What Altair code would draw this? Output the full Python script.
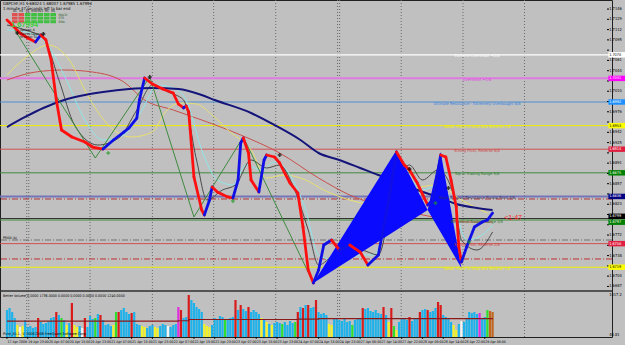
import altair as alt
import pandas as pd
import numpy as np

NARROW = "Liberation Sans Narrow, DejaVu Sans Condensed, Liberation Sans, sans-serif"

# ---------------- data ----------------
line_bar = [0, 2, 5, 8, 11, 13, 15, 17, 19, 21, 25, 30, 33, 37, 41, 45, 47, 50, 51, 53,
            56, 60, 64, 66, 68, 69, 70, 72, 75, 76, 78, 79, 81, 85, 87, 89, 90, 91, 93, 94,
            97, 99, 100, 103, 105, 109, 112, 114, 116, 118, 120, 122, 125, 128, 132, 136, 139, 143, 147, 150,
            153, 155, 158, 162, 164, 167, 169, 171, 173, 174, 175, 177, 180, 183, 185, 187]
line_price = [1.71279, 1.71196, 1.71064, 1.70981, 1.70915, 1.71031, 1.70948, 1.70617, 1.69955, 1.69459,
              1.69343, 1.69260, 1.69177, 1.69144, 1.69293, 1.69425, 1.69492, 1.69657, 1.69955, 1.70319,
              1.70220, 1.70137, 1.70071, 1.69889, 1.69823, 1.69856, 1.69757, 1.68681, 1.68135, 1.68052,
              1.68300, 1.68516, 1.68433, 1.68350, 1.68333, 1.68631, 1.69243, 1.69326, 1.69078, 1.68631,
              1.68433, 1.68962, 1.69045, 1.69012, 1.68912, 1.68581, 1.68416, 1.67853, 1.67142, 1.66926,
              1.67142, 1.67555, 1.67638, 1.67473, 1.67555, 1.67439, 1.67224, 1.67390, 1.68300, 1.69095,
              1.68879, 1.68797, 1.68581, 1.68218, 1.68300, 1.69045, 1.69012, 1.68631, 1.68184, 1.67522,
              1.67274, 1.67522, 1.67853, 1.67936, 1.67969, 1.68085]

navy_bar = [0, 7, 14, 22, 30, 37, 47, 56, 66, 75, 80, 94, 103, 113, 120, 128, 136, 143, 151, 158, 166, 173, 181, 187]
navy_price = [1.69508, 1.69674, 1.69823, 1.69955, 1.70038, 1.70088, 1.70137, 1.70154, 1.70137, 1.70038,
              1.69955, 1.69740, 1.69541, 1.69293, 1.69078, 1.68962, 1.68830, 1.68714, 1.68598, 1.68466,
              1.68350, 1.68234, 1.68168, 1.68135]

brown_bar = [0, 11, 22, 33, 45, 53, 64, 75, 90, 105, 120, 132, 143, 155, 166, 177, 187]
brown_price = [1.70286, 1.70418, 1.70452, 1.70418, 1.70253, 1.69955, 1.69790, 1.69624, 1.69376, 1.69078,
               1.68664, 1.68383, 1.68217, 1.68101, 1.68002, 1.67936, 1.67936]

yellow_bar = [0, 7, 16, 24, 31, 39, 48, 56, 61, 67, 73, 79, 86, 94, 100, 107, 115, 122, 132, 143, 155, 166, 175, 185]
yellow_price = [1.70369, 1.70650, 1.70865, 1.70617, 1.70038, 1.69541, 1.69343, 1.69425, 1.69757, 1.69906,
                1.69889, 1.69707, 1.69425, 1.69128, 1.68664, 1.68714, 1.68631, 1.68466, 1.68300, 1.68217,
                1.68466, 1.68548, 1.68300, 1.68085]

cyan_bar = [0, 7, 14, 22, 30, 37, 45, 52, 58, 64, 69, 75, 81, 87, 92, 98, 103, 109, 115, 120,
            126, 134, 141, 149, 155, 160, 166, 172, 177, 183, 187]
cyan_price = [1.71114, 1.71081, 1.70948, 1.70369, 1.69624, 1.69293, 1.69376, 1.69790, 1.70203, 1.70154,
              1.69955, 1.69128, 1.68631, 1.68549, 1.68879, 1.68797, 1.68929, 1.68714, 1.68135, 1.67390,
              1.67307, 1.67390, 1.67390, 1.68217, 1.68631, 1.68466, 1.68548, 1.68217, 1.67638, 1.67721,
              1.67886]

grey_bar = [0, 7, 14, 20, 26, 35, 43, 50, 56, 62, 68, 73, 77, 83, 88, 94, 100, 105, 110, 116,
            120, 126, 136, 143, 149, 155, 160, 166, 172, 175, 181, 187]
grey_price = [1.71196, 1.71114, 1.70981, 1.70286, 1.69541, 1.69210, 1.69326, 1.69790, 1.70203, 1.70088,
              1.69955, 1.68962, 1.68300, 1.68466, 1.68549, 1.68962, 1.68830, 1.68879, 1.68549, 1.67804,
              1.67224, 1.67390, 1.67473, 1.67390, 1.68466, 1.68879, 1.68631, 1.68797, 1.68383, 1.67638,
              1.67473, 1.67771]

zig_bar = [3, 34, 55, 72, 91, 118]
zig_price = [1.71114, 1.68995, 1.70336, 1.68019, 1.69343, 1.66926]

tri1_bar = [118, 150, 162]
tri1_price = [1.66926, 1.69128, 1.68135]
tri2_bar = [162, 167, 175]
tri2_price = [1.68135, 1.69095, 1.67175]

lvl_price = [1.70703, 1.70313, 1.69922, 1.69531, 1.69141, 1.68750, 1.68359, 1.67969, 1.67578, 1.67188]
lvl_label = ["Extreme Overshoot +2/8", "Overshoot +1/8",
             "Ultimate Resistance - Extremely Overbought 8/8", "Weak, Place to Stop and Reverse 7/8",
             "Strong Pivot, Reverse 6/8", "Top of Trading Range 5/8",
             "Major Support/Resistance Pivotal Point 4/8", "Bottom of Trading Range 3/8",
             "Strong Pivot, Reverse 2/8", "Weak, Place to Stop and Reverse 1/8"]
lvl_color = ["#ffffff", "#e07ae0", "#4f8fd0", "#f0f000", "#d05050", "#3f8a3f",
             "#7474b8", "#3f8a3f", "#d05050", "#f0f000"]
lvl_text_color = ["#ffffff", "#e040e0", "#2f7fe0", "#f0f000", "#d04040", "#2a7a2a",
                  "#303060", "#2a7a2a", "#d04040", "#f0f000"]
lvl_width = [1.2, 2, 1, 1, 1, 1, 2, 1, 1, 1]

dash_price = [1.68317, 1.67638, 1.67324]
dash_color = ["#b03030", "#707070", "#c03030"]
bid_price = 1.67994

box_price = lvl_price + [bid_price]
box_color = ["#ffffff", "#ff00ff", "#1e90ff", "#ffff00", "#e02040", "#008000",
             "#000080", "#008000", "#e02040", "#ffff00", "#000000"]
box_text = ["#000000", "#ffffff", "#ffffff", "#000000", "#ffffff", "#ffffff",
            "#ffffff", "#ffffff", "#ffffff", "#000000", "#ffffff"]
# vertical nudge of the price boxes (the bid box sits just above the 3/8 box)
box_shift = [0, 0, 0, 0, 0, 0, 0, -0.00036, 0, 0, 0.00036]

price_ticks = [1.7146, 1.7129, 1.7112, 1.7095, 1.7078, 1.7061, 1.7044, 1.7027, 1.7010, 1.6993,
               1.6976, 1.6959, 1.6942, 1.6925, 1.6908, 1.6891, 1.6874, 1.6857, 1.6840, 1.6823,
               1.6806, 1.6789, 1.6772, 1.6755, 1.6738, 1.6721, 1.6704, 1.6687]

time_labels = ["17 Apr 2009", "19 Apr 23:00", "20 Apr 07:00", "20 Apr 15:00", "20 Apr 23:00",
               "21 Apr 07:00", "21 Apr 15:00", "21 Apr 23:00", "22 Apr 07:00", "22 Apr 15:00",
               "22 Apr 23:00", "23 Apr 07:00", "23 Apr 15:00", "23 Apr 23:00", "24 Apr 07:00",
               "24 Apr 15:00", "24 Apr 23:00", "27 Apr 06:00", "27 Apr 14:00", "27 Apr 22:00",
               "28 Apr 06:00", "28 Apr 14:00", "28 Apr 22:00", "29 Apr 06:00"]
time_tick_bars = [8 * i for i in range(len(time_labels))]
day_sep_bars = [7.6, 8.4, 32, 56, 79.6, 103.5, 127.3, 128.1, 151.8, 175.6, 199.3]

black_mark_bar = [4, 14, 55, 105, 155, 170]
black_mark_price = [1.71064, 1.71048, 1.70336, 1.69045, 1.68813, 1.68499]
green_mark_bar = [39, 87, 165, 178]
green_mark_price = [1.69078, 1.68283, 1.68250, 1.67605]

volume = [648, 696, 600, 456, 288, 240, 264, 408,
          240, 264, 216, 240, 456, 360, 312, 336,
          384, 456, 480, 600, 528, 456, 408, 288,
          336, 816, 288, 240, 264, 216, 456, 240,
          504, 432, 456, 552, 528, 408, 288, 312,
          264, 288, 600, 600, 648, 696, 600, 552,
          576, 600, 312, 288, 264, 240, 216, 264,
          288, 240, 216, 264, 312, 288, 264, 240,
          288, 312, 720, 648, 456, 480, 1008, 888,
          816, 720, 672, 600, 312, 264, 240, 288,
          456, 432, 504, 480, 432, 408, 456, 480,
          888, 648, 768, 672, 624, 720, 600, 648,
          600, 552, 456, 408, 360, 312, 288, 336,
          360, 336, 312, 360, 288, 384, 336, 360,
          600, 720, 696, 768, 768, 696, 720, 888,
          600, 552, 576, 528, 312, 288, 456, 432,
          408, 384, 432, 360, 384, 288, 408, 432,
          456, 696, 672, 696, 624, 600, 648, 576,
          552, 720, 528, 360, 696, 264, 168, 360,
          432, 456, 408, 480, 384, 432, 456, 600,
          648, 672, 648, 600, 624, 696, 840, 768,
          528, 480, 432, 360, 288, 168, 312, 384,
          360, 432, 600, 576, 600, 552, 576, 456,
          480, 648, 624, 600]
vol_kind = list("ccccywyc" "ccccrccc" "cccrcgcy" "cryycwrc" "ccgcrccc" "cygrcccc"
                "rcccyycc" "cyycccwc" "ccmrccrc" "ccccyyyc" "ccccgccc"
                "rcrccrcc" "ccycycyc" "ccgccccg" "rcrcrccr" "ccccyycc" "cccccgcc"
                "crcccccc" "crcyrgyc" "cccrcccr" "ccrcccrr" "ccccyycw" "ccccccmc" "cgbb")
vol_colors = {"c": "#1fb2ea", "r": "#d81c1c", "y": "#f2f22a", "w": "#f4f4f4",
              "g": "#2ee02e", "m": "#e02ee0", "b": "#c0641e"}
vol_ma_bar = [0, 40, 66, 70, 112, 120, 150, 187]
vol_ma_val = [380, 380, 390, 420, 430, 440, 440, 445]

tfs = ["D1", "H4", "H1", "M30", "M15", "M5", "M1"]
sig_rows = ["MACD", "STR", "EMA"]
sig_matrix = [["d", "d", "u", "u", "u", "u", "u"],
              ["d", "d", "u", "u", "u", "u", "u"],
              ["d", "d", "u", "u", "u", "u", "u"]]

# ---------------- scales ----------------
X_MIN, X_MAX = -0.76, 231.06
P_MIN, P_MAX = 1.66033, 1.71610
xs = alt.Scale(domain=[X_MIN, X_MAX], nice=False, zero=False)
ps = alt.Scale(domain=[P_MIN, P_MAX], nice=False, zero=False)
vs = alt.Scale(domain=[0, 8088], nice=False, zero=False)

X = lambda f: alt.X(f, scale=xs, axis=None)
P = lambda f: alt.Y(f, scale=ps, axis=None, stack=None)

# ---------------- price panel ----------------
sep_df = pd.DataFrame({"bar": day_sep_bars})
vgrid = alt.Chart(sep_df).mark_rule(color="#6a6a6a", strokeDash=[1, 2], strokeWidth=1).encode(
    x=X("bar:Q"))

lvl_df = pd.DataFrame({"p": lvl_price, "label": lvl_label, "col": lvl_color,
                       "tcol": lvl_text_color, "w": lvl_width, "bar": [181] * len(lvl_price)})
levels = alt.Chart(lvl_df).mark_rule().encode(
    y=P("p:Q"),
    color=alt.Color("col:N", scale=None),
    strokeWidth=alt.StrokeWidth("w:Q", scale=None))

dash_df = pd.DataFrame({"p": dash_price, "col": dash_color})
dashes = alt.Chart(dash_df).mark_rule(strokeDash=[6, 2, 1, 2], strokeWidth=1).encode(
    y=P("p:Q"), color=alt.Color("col:N", scale=None))

bid = alt.Chart(pd.DataFrame({"p": [bid_price]})).mark_rule(color="#333333", strokeWidth=1).encode(
    y=P("p:Q"))

lvl_text = alt.Chart(lvl_df).mark_text(font=NARROW, fontSize=4, dy=1.5, align="center",
                                       baseline="middle").encode(
    x=X("bar:Q"), y=P("p:Q"), text="label:N", color=alt.Color("tcol:N", scale=None))


def ma_line(bars, prices, color, width, interp="monotone"):
    df = pd.DataFrame({"bar": bars, "p": prices})
    return alt.Chart(df).mark_line(color=color, strokeWidth=width, interpolate=interp).encode(
        x=X("bar:Q"), y=P("p:Q"), order="bar:Q")


ma_brown = ma_line(brown_bar, brown_price, "#c8504a", 1)
ma_yellow = ma_line(yellow_bar, yellow_price, "#e8e070", 1)
ma_cyan = ma_line(cyan_bar, cyan_price, "#8fe6ea", 1)
ma_grey = ma_line(grey_bar, grey_price, "#4a4a4a", 1)
ma_navy = ma_line(navy_bar, navy_price, "#14147a", 2)
zigzag = ma_line(zig_bar, zig_price, "#3e8a3e", 1, "linear")

tri_rows = []
for tid, (tb, tp) in enumerate([(tri1_bar, tri1_price), (tri2_bar, tri2_price)]):
    for b, p in zip(tb, tp):
        base = float(np.interp(b, [tb[0], tb[-1]], [tp[0], tp[-1]]))
        tri_rows.append({"tri": tid, "bar": b, "p": p, "p2": base})
tri_df = pd.DataFrame(tri_rows)
triangles = alt.Chart(tri_df).mark_area(color="#0a0aff", opacity=1).encode(
    x=X("bar:Q"), y=P("p:Q"), y2="p2:Q", detail="tri:N")

n = min(len(line_bar), len(line_price))
pl = pd.DataFrame({"bar": line_bar[:n], "p": line_price[:n]})
pl["bar2"] = pl["bar"].shift(-1)
pl["p2"] = pl["p"].shift(-1)
pl = pl.dropna()
pl["dir"] = np.where(pl["p2"] >= pl["p"], "up", "down")
price_line = alt.Chart(pl).mark_rule(strokeWidth=2.8, strokeCap="round").encode(
    x=X("bar:Q"), x2="bar2:Q", y=P("p:Q"), y2="p2:Q",
    color=alt.Color("dir:N", scale=alt.Scale(domain=["up", "down"], range=["#1010e6", "#ff1010"]),
                    legend=None))

bm = alt.Chart(pd.DataFrame({"bar": black_mark_bar, "p": black_mark_price})).mark_point(
    shape="cross", filled=True, size=16, color="black").encode(x=X("bar:Q"), y=P("p:Q"))
gm = alt.Chart(pd.DataFrame({"bar": green_mark_bar, "p": green_mark_price})).mark_point(
    shape="cross", filled=True, size=14, color="#1f9a1f").encode(x=X("bar:Q"), y=P("p:Q"))

timer = alt.Chart(pd.DataFrame({"bar": [191.5], "p": [1.68002], "t": ["<1:47"]})).mark_text(
    color="#ff2020", fontSize=7, align="left", baseline="middle", font="Liberation Sans").encode(
    x=X("bar:Q"), y=P("p:Q"), text="t:N")

# right price axis (drawn as marks, outside the plot); labels hidden under price boxes are skipped
AX_LABEL_BAR = 231.6
vis_ticks = [t for t in price_ticks if min(abs(t - b) for b in box_price) > 0.0009]
ptick_df = pd.DataFrame({"p": price_ticks, "b1": [X_MAX] * len(price_ticks),
                         "b2": [X_MAX + 0.8] * len(price_ticks)})
plabel_df = pd.DataFrame({"p": vis_ticks, "bl": [AX_LABEL_BAR + 0.3] * len(vis_ticks)})
ptick_rules = alt.Chart(ptick_df).mark_rule(clip=False, color="black", strokeWidth=1).encode(
    x=X("b1:Q"), x2="b2:Q", y=P("p:Q"))
ptick_text = alt.Chart(plabel_df).mark_text(clip=False, font=NARROW, fontSize=4, align="left",
                                            baseline="middle", color="black").encode(
    x=X("bl:Q"), y=P("p:Q"), text=alt.Text("p:Q", format=".4f"))

box_df = pd.DataFrame({"p": box_price, "col": box_color, "tcol": box_text, "shift": box_shift,
                       "b1": [231.6] * len(box_price), "b2": [238.0] * len(box_price),
                       "bl": [AX_LABEL_BAR + 0.3] * len(box_price)})
box_df["mid"] = box_df["p"] + box_df["shift"]
box_df["top"] = box_df["mid"] + 0.00045
box_df["bot"] = box_df["mid"] - 0.00045
boxes = alt.Chart(box_df).mark_rect(clip=False).encode(
    x=X("b1:Q"), x2="b2:Q", y=P("top:Q"), y2="bot:Q", color=alt.Color("col:N", scale=None))
box_lbl = alt.Chart(box_df).mark_text(clip=False, fontSize=3.8, font=NARROW, align="left",
                                      baseline="middle").encode(
    x=X("bl:Q"), y=P("mid:Q"), text=alt.Text("p:Q", format=".4f"),
    color=alt.Color("tcol:N", scale=None))

# bottom time axis (drawn as marks, below the plot)
ttick_df = pd.DataFrame({"bar": time_tick_bars, "label": time_labels,
                         "p1": [P_MIN] * len(time_labels), "p2": [P_MIN - 0.0003] * len(time_labels),
                         "pl": [P_MIN - 0.00075] * len(time_labels)})
ttick_rules = alt.Chart(ttick_df).mark_rule(clip=False, color="black", strokeWidth=1).encode(
    x=X("bar:Q"), y=P("p1:Q"), y2="p2:Q")
ttick_text = alt.Chart(ttick_df).mark_text(clip=False, font=NARROW, fontSize=3.5, align="left",
                                           baseline="middle", color="black", dx=0.5).encode(
    x=X("bar:Q"), y=P("pl:Q"), text="label:N")

panel_sep = alt.Chart(pd.DataFrame({"p": [1.66794]})).mark_rule(color="#303030", strokeWidth=1.6).encode(
    y=P("p:Q"))

# top-left info widget
info_df = pd.DataFrame({"t": ["GBPCHF,H1  1.68024 1.68037 1.67985 1.67994",
                              "1 minute 47 seconds left to bar end"],
                        "px": [3, 3], "py": [4, 8.5]})
info = alt.Chart(info_df).mark_text(font=NARROW, fontSize=4.2, align="left", baseline="middle",
                                    color="black").encode(
    x=alt.X("px:Q", scale=None, axis=None), y=alt.Y("py:Q", scale=None, axis=None), text="t:N")

cells = []
for r, row in enumerate(sig_matrix):
    for c, s in enumerate(row):
        x0 = 12 + c * 6.4
        y0 = 13 + r * 3.6
        cells.append({"x0": x0, "x1": x0 + 5.6, "y0": y0, "y1": y0 + 3.0,
                      "col": "#e05050" if s == "d" else "#40c040"})
cell_df = pd.DataFrame(cells)
sig_cells = alt.Chart(cell_df).mark_rect().encode(
    x=alt.X("x0:Q", scale=None, axis=None), x2="x1:Q",
    y=alt.Y("y0:Q", scale=None, axis=None), y2="y1:Q", color=alt.Color("col:N", scale=None))
hdr_df = pd.DataFrame({"t": tfs, "px": [14.8 + 6.4 * i for i in range(len(tfs))], "py": [11] * len(tfs)})
hdr = alt.Chart(hdr_df).mark_text(font=NARROW, fontSize=3, align="center", baseline="middle",
                                  color="black").encode(
    x=alt.X("px:Q", scale=None, axis=None), y=alt.Y("py:Q", scale=None, axis=None), text="t:N")
rowlbl_df = pd.DataFrame({"t": sig_rows, "px": [58.5] * 3, "py": [14.5 + 3.6 * i for i in range(3)]})
rowlbl = alt.Chart(rowlbl_df).mark_text(font=NARROW, fontSize=3.2, align="left", baseline="middle",
                                        color="#1e5a1e").encode(
    x=alt.X("px:Q", scale=None, axis=None), y=alt.Y("py:Q", scale=None, axis=None), text="t:N")
big_df = pd.DataFrame({"t": ["1.67994"], "px": [11], "py": [25]})
big = alt.Chart(big_df).mark_text(font="Liberation Sans", fontSize=7.5, fontWeight="bold",
                                  align="left", baseline="middle", color="#3ccf3c").encode(
    x=alt.X("px:Q", scale=None, axis=None), y=alt.Y("py:Q", scale=None, axis=None), text="t:N")
small_df = pd.DataFrame({"t": ["Spread: 4", "Pips to Open: -3", "Hi to Lo: 52"],
                         "px": [20, 20, 20], "py": [30, 33.5, 37]})
small = alt.Chart(small_df).mark_text(font=NARROW, fontSize=3.4, align="left", baseline="middle",
                                      color="black").encode(
    x=alt.X("px:Q", scale=None, axis=None), y=alt.Y("py:Q", scale=None, axis=None), text="t:N")
pri_df = pd.DataFrame({"t": ["PRI04 (b)"], "px": [3], "py": [238]})
pri = alt.Chart(pri_df).mark_text(font=NARROW, fontSize=3.4, align="left", baseline="middle",
                                  color="black").encode(
    x=alt.X("px:Q", scale=None, axis=None), y=alt.Y("py:Q", scale=None, axis=None), text="t:N")

price_group = alt.layer(vgrid, levels, dashes, bid, ma_brown, ma_yellow, ma_cyan, ma_grey,
                        ma_navy, zigzag, triangles, lvl_text, price_line, bm, gm, timer,
                        ptick_rules, ptick_text, boxes, box_lbl, ttick_rules, ttick_text,
                        panel_sep, info, sig_cells, hdr, rowlbl, big, small, pri)

# ---------------- volume panel ----------------
nv = min(len(volume), len(vol_kind))
vol_df = pd.DataFrame({"bar": list(range(nv)), "v": volume[:nv],
                       "col": [vol_colors[k] for k in vol_kind[:nv]]})
vol_bars = alt.Chart(vol_df).mark_bar(size=2.2).encode(
    x=X("bar:Q"), y=alt.Y("v:Q", scale=vs, axis=None, stack=None), y2=alt.datum(0),
    color=alt.Color("col:N", scale=None))
vol_ma = alt.Chart(pd.DataFrame({"bar": vol_ma_bar, "v": vol_ma_val})).mark_line(
    color="#8a1a1a", strokeWidth=1.2, interpolate="step-after").encode(
    x=X("bar:Q"), y=alt.Y("v:Q", scale=vs, axis=None), order="bar:Q")
vlab_df = pd.DataFrame({"bar": [AX_LABEL_BAR + 0.3] * 2, "v": [1017, 60], "t": ["1017.2", "48.81"]})
vol_lab = alt.Chart(vlab_df).mark_text(clip=False, font=NARROW, fontSize=4, align="left",
                                       baseline="middle", color="black").encode(
    x=X("bar:Q"), y=alt.Y("v:Q", scale=vs, axis=None), text="t:N")
vtxt_df = pd.DataFrame({"t": ["Better Volume 0.0000 1736.0000 0.0000 0.0000 0.0000 0.0000 1240.0000",
                              "Pivot_X1.1, \u00a9 2006-2008 FreeQuant Software Corp."],
                        "px": [3, 3], "py": [296, 334]})
vol_txt = alt.Chart(vtxt_df).mark_text(font=NARROW, fontSize=3.6, align="left", baseline="middle",
                                       color="black").encode(
    x=alt.X("px:Q", scale=None, axis=None), y=alt.Y("py:Q", scale=None, axis=None), text="t:N")

vol_group = alt.layer(vol_bars, vol_ma, vol_lab, vol_txt)

chart = alt.layer(price_group, vol_group).resolve_scale(y="independent").properties(
    width=612, height=337,
    autosize=alt.AutoSizeParams(type="none"),
    padding={"left": 0, "top": 0, "right": 13, "bottom": 8},
    background="#c0c0c0",
).configure_view(stroke="#202020", strokeWidth=1, fill="#c0c0c0")

chart.save("out.html", embed_options={"renderer": "svg", "actions": False})
